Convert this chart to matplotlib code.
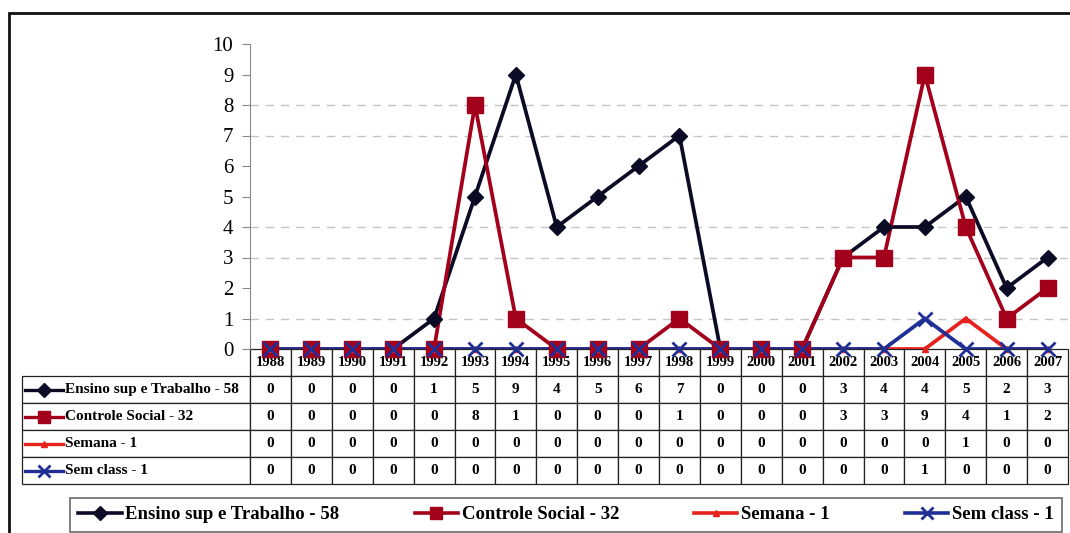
import matplotlib.pyplot as plt
from matplotlib.lines import Line2D
from matplotlib.patches import Rectangle

anos = ['1988', '1989', '1990', '1991', '1992', '1993', '1994', '1995', '1996', '1997',
        '1998', '1999', '2000', '2001', '2002', '2003', '2004', '2005', '2006', '2007']
nomes = ['Ensino sup e Trabalho - 58', 'Controle Social - 32', 'Semana - 1', 'Sem class - 1']
ensino = [0, 0, 0, 0, 1, 5, 9, 4, 5, 6, 7, 0, 0, 0, 3, 4, 4, 5, 2, 3]
controle = [0, 0, 0, 0, 0, 8, 1, 0, 0, 0, 1, 0, 0, 0, 3, 3, 9, 4, 1, 2]
semana = [0, 0, 0, 0, 0, 0, 0, 0, 0, 0, 0, 0, 0, 0, 0, 0, 0, 1, 0, 0]
sem_class = [0, 0, 0, 0, 0, 0, 0, 0, 0, 0, 0, 0, 0, 0, 0, 0, 1, 0, 0, 0]
series = [ensino, controle, semana, sem_class]

# linhas de grade que aparecem na imagem original
grade = [1, 3, 4, 7, 8]

# estilos de cada serie (cor, marcador, tamanho)
estilos = [
    dict(color='#0b0b26', marker='D', markersize=8.5, mew=1),
    dict(color='#a3001b', marker='s', markersize=11, mew=1),
    dict(color='#e5221e', marker='^', markersize=5, mew=1),
    dict(color='#1f2f96', marker='x', markersize=10, mew=2),
]

W, H = 1070, 533
def fx(px):
    return px / W
def fy(py):
    return 1 - py / H

serif = 'Liberation Serif'
fig = plt.figure(figsize=(W / 100, H / 100), dpi=100)

ax = fig.add_axes([fx(250), fy(349), fx(1068) - fx(250), fy(44) - fy(349)])
ax.set_zorder(3)
x = list(range(len(anos)))

# linhas primeiro, depois marcadores (como no Excel)
for vals, st in zip(series, estilos):
    ax.plot(x, vals, color=st['color'], lw=2.7, zorder=2, solid_joinstyle='miter')
for vals, st in zip(series, estilos):
    ax.plot(x, vals, ls='none', marker=st['marker'], ms=st['markersize'],
            color=st['color'], mec=st['color'], mew=st['mew'], zorder=3, clip_on=False)

ax.set_xlim(-0.5, len(anos) - 0.5)
ax.set_ylim(0, 10)
ax.set_yticks(range(0, 11))
ax.set_xticks([])
ax.tick_params(axis='y', direction='out', length=6, color='#888888', pad=6,
               labelsize=15, labelfontfamily=serif)
for g in grade:
    ax.axhline(g, color='#c4c4c4', linestyle=(0, (6, 5)), lw=1, zorder=1)
for s in ['top', 'right', 'bottom']:
    ax.spines[s].set_visible(False)
ax.spines['left'].set_color('#888888')
ax.patch.set_alpha(0)

# tabela de dados
tab_top, tab_bot, tab_left, tab_right = 349, 484, 22, 1068
tab_ax = fig.add_axes([fx(tab_left), fy(tab_bot), fx(tab_right) - fx(tab_left), fy(tab_top) - fy(tab_bot)])
tab_ax.set_zorder(1)
tab_ax.axis('off')
linhas = [[''] + anos] + [[n] + [str(v) for v in vals] for n, vals in zip(nomes, series)]
larg_label = 228
larg_col = (tab_right - tab_left - larg_label) / len(anos)
larguras = [larg_label] + [larg_col] * len(anos)
tot = sum(larguras)
tabela = tab_ax.table(cellText=linhas, colWidths=[w / tot for w in larguras],
                      cellLoc='center', bbox=[0, 0, 1, 1])
tabela.auto_set_font_size(False)
for (r, c), cell in tabela.get_celld().items():
    cell.set_linewidth(0.9)
    cell.set_edgecolor('#222222')
    t = cell.get_text()
    t.set_fontfamily(serif)
    t.set_fontweight('bold')
    t.set_fontsize(11)
    if r == 0:
        t.set_fontsize(10.5)
    if c == 0:
        t.set_ha('left')
        cell.PAD = 0.19
    if r == 0 and c == 0:
        cell.set_edgecolor('none')
        cell.set_facecolor('none')

# marcadores das series nos rotulos da tabela
alt = (tab_bot - tab_top) / len(linhas)
for i, st in enumerate(estilos):
    yc = tab_top + alt * (i + 1.5)
    fig.add_artist(Line2D([fx(25), fx(44), fx(63)], [fy(yc)] * 3, transform=fig.transFigure,
                          color=st['color'], lw=2.4, marker=st['marker'],
                          ms=st['markersize'] * 0.8, mew=st['mew'], markevery=[1], zorder=5))

# legenda
handles = [Line2D([], [], color=st['color'], lw=2.6, marker=st['marker'],
                  ms=st['markersize'] * 0.85, mew=st['mew']) for st in estilos]
leg = fig.legend(handles, nomes, loc='upper left', ncol=4, mode='expand',
                 bbox_to_anchor=(fx(70), fy(503), fx(1062) - fx(70), 0.01),
                 borderaxespad=0, frameon=True, fancybox=False, handlelength=2.3,
                 prop={'weight': 'bold', 'size': 13.5},
                 borderpad=0.45, handletextpad=0.2)
for t in leg.get_texts():
    t.set_fontfamily(serif)
leg.get_frame().set_edgecolor('#444444')
leg.get_frame().set_linewidth(1.2)

# moldura externa
fig.add_artist(Rectangle((fx(9), fy(560)), fx(1080) - fx(9), fy(13) - fy(560),
                         transform=fig.transFigure, fill=False, lw=2, ec='#111111'))

fig.savefig('out.png', dpi=100)
